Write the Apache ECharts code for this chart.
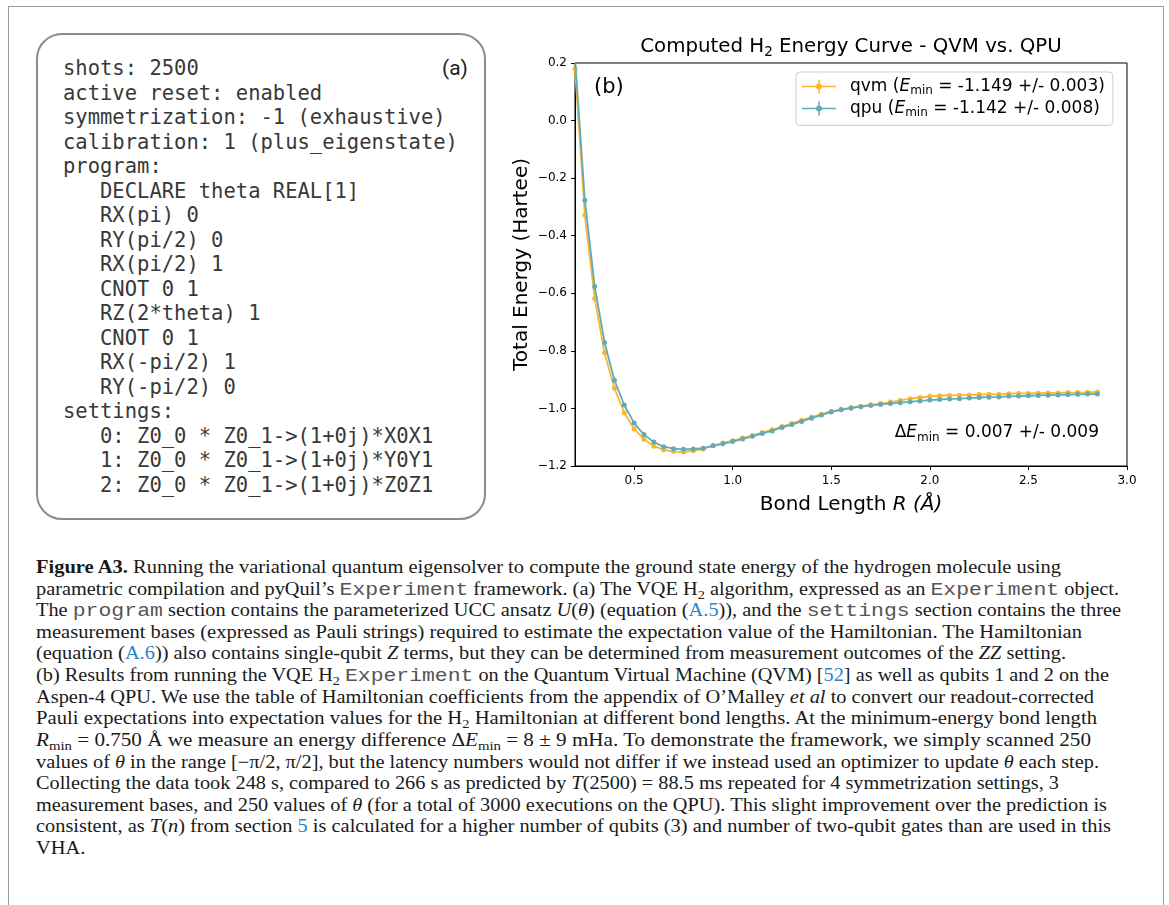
<!DOCTYPE html>
<html><head><meta charset="utf-8">
<script src="https://cdn.jsdelivr.net/npm/echarts@6/dist/echarts.min.js"></script>
<style>
html,body{margin:0;padding:0;background:#fff;width:1169px;height:905px;overflow:hidden;position:relative}
#frame{position:absolute;left:8px;top:6px;width:1156px;height:1000px;border:1.5px solid #9a9a9a;box-sizing:border-box}
#panel{position:absolute;left:36px;top:33px;width:450px;height:487px;border:2px solid #8c8c8c;border-radius:26px;box-sizing:border-box}
#code{position:absolute;left:63px;top:56px;margin:0;font-family:'DejaVu Sans Mono',monospace;font-size:20.5px;line-height:24.5px;color:#383838;white-space:pre}
#pa{position:absolute;left:442px;top:54px;font-family:Roboto,'DejaVu Sans',sans-serif;font-size:21px;line-height:28px;color:#222}
#chart{position:absolute;left:0;top:0;width:1169px;height:905px}
#cap{position:absolute;left:36px;top:556px;font-family:'Liberation Serif',serif;font-size:18px;color:#1a1a1a}
.ln{position:absolute;left:0;white-space:nowrap;height:22px;line-height:22px}
.ln span.w{display:inline-block;transform-origin:0 50%}
code{font-family:'Liberation Mono',monospace;font-size:19px;color:#555}
sub{font-size:0.7em;vertical-align:-0.3em;line-height:0}
a{color:#2b86c5;text-decoration:none}
</style></head>
<body>
<div id="frame"></div>
<div id="panel"></div>
<pre id="code"></pre>
<div id="pa">(a)</div>
<div id="cap">
<div class="ln"><span class="w"><b>Figure A3.</b> Running the variational quantum eigensolver to compute the ground state energy of the hydrogen molecule using</span></div>
<div class="ln"><span class="w">parametric compilation and pyQuil’s <code>Experiment</code> framework. (a) The VQE H<sub>2</sub> algorithm, expressed as an <code>Experiment</code> object.</span></div>
<div class="ln"><span class="w">The <code>program</code> section contains the parameterized UCC ansatz <i>U</i>(<i>θ</i>) (equation (<a>A.5</a>)), and the <code>settings</code> section contains the three</span></div>
<div class="ln"><span class="w">measurement bases (expressed as Pauli strings) required to estimate the expectation value of the Hamiltonian. The Hamiltonian</span></div>
<div class="ln"><span class="w">(equation (<a>A.6</a>)) also contains single-qubit <i>Z</i> terms, but they can be determined from measurement outcomes of the <i>ZZ</i> setting.</span></div>
<div class="ln"><span class="w">(b) Results from running the VQE H<sub>2</sub> <code>Experiment</code> on the Quantum Virtual Machine (QVM) [<a>52</a>] as well as qubits 1 and 2 on the</span></div>
<div class="ln"><span class="w">Aspen-4 QPU. We use the table of Hamiltonian coefficients from the appendix of O’Malley <i>et al</i> to convert our readout-corrected</span></div>
<div class="ln"><span class="w">Pauli expectations into expectation values for the H<sub>2</sub> Hamiltonian at different bond lengths. At the minimum-energy bond length</span></div>
<div class="ln"><span class="w"><i>R</i><sub>min</sub> = 0.750 Å we measure an energy difference Δ<i>E</i><sub>min</sub> = 8 ± 9 mHa. To demonstrate the framework, we simply scanned 250</span></div>
<div class="ln"><span class="w">values of <i>θ</i> in the range [−π/2, π/2], but the latency numbers would not differ if we instead used an optimizer to update <i>θ</i> each step.</span></div>
<div class="ln"><span class="w">Collecting the data took 248 s, compared to 266 s as predicted by <i>T</i>(2500) = 88.5 ms repeated for 4 symmetrization settings, 3</span></div>
<div class="ln"><span class="w">measurement bases, and 250 values of <i>θ</i> (for a total of 3000 executions on the QPU). This slight improvement over the prediction is</span></div>
<div class="ln"><span class="w">consistent, as <i>T</i>(<i>n</i>) from section <a>5</a> is calculated for a higher number of qubits (3) and number of two-qubit gates than are used in this</span></div>
<div class="ln"><span class="w">VHA.</span></div>
</div>
<div id="chart"></div>
<script>
// ---- data ----
const bondLength = [0.20,0.25,0.30,0.35,0.40,0.45,0.50,0.55,0.60,0.65,0.70,0.75,0.80,0.85,0.90,0.95,1.00,1.05,1.10,1.15,1.20,1.25,1.30,1.35,1.40,1.45,1.50,1.55,1.60,1.65,1.70,1.75,1.80,1.85,1.90,1.95,2.00,2.05,2.10,2.15,2.20,2.25,2.30,2.35,2.40,2.45,2.50,2.55,2.60,2.65,2.70,2.75,2.80,2.85];
const qvmEnergy = [0.18,-0.329,-0.618,-0.807,-0.930,-1.015,-1.071,-1.107,-1.131,-1.144,-1.150,-1.151,-1.147,-1.141,-1.129,-1.120,-1.112,-1.103,-1.094,-1.084,-1.074,-1.063,-1.052,-1.041,-1.030,-1.020,-1.010,-1.003,-0.997,-0.992,-0.987,-0.983,-0.978,-0.972,-0.966,-0.962,-0.958,-0.956,-0.955,-0.954,-0.953,-0.952,-0.951,-0.951,-0.949,-0.948,-0.948,-0.947,-0.946,-0.946,-0.945,-0.945,-0.944,-0.943];
const qpuEnergy = [0.22,-0.277,-0.576,-0.771,-0.902,-0.988,-1.051,-1.091,-1.117,-1.133,-1.140,-1.142,-1.141,-1.138,-1.130,-1.123,-1.115,-1.106,-1.097,-1.087,-1.078,-1.066,-1.056,-1.045,-1.034,-1.023,-1.012,-1.005,-0.999,-0.994,-0.990,-0.986,-0.983,-0.980,-0.977,-0.974,-0.971,-0.969,-0.967,-0.966,-0.964,-0.962,-0.961,-0.960,-0.958,-0.957,-0.956,-0.955,-0.954,-0.953,-0.952,-0.951,-0.950,-0.950];
const xTicks = [0.5,1.0,1.5,2.0,2.5,3.0];
const yTicks = [-1.2,-1.0,-0.8,-0.6,-0.4,-0.2,0.0,0.2];
const seriesNames = ['qvm','qpu'];
const eMinValues = ['-1.149','-1.142'];
const eMinErrors = ['0.003','0.008'];
const deltaEText = ['0.007','0.009'];
const codeLines = [
'shots: 2500','active reset: enabled','symmetrization: -1 (exhaustive)','calibration: 1 (plus_eigenstate)','program:',
'   DECLARE theta REAL[1]','   RX(pi) 0','   RY(pi/2) 0','   RX(pi/2) 1','   CNOT 0 1','   RZ(2*theta) 1','   CNOT 0 1',
'   RX(-pi/2) 1','   RY(-pi/2) 0','settings:','   0: Z0_0 * Z0_1->(1+0j)*X0X1','   1: Z0_0 * Z0_1->(1+0j)*Y0Y1','   2: Z0_0 * Z0_1->(1+0j)*Z0Z1'];

// ---- layout helpers (not data) ----
const capRight = [1061,1119,1121,1082,1066,1109,1094,1097,1091,1099,1059,1107,1111];
document.getElementById('code').textContent = codeLines.join('\n');
const lns = document.querySelectorAll('#cap .ln');
let scs = [];
lns.forEach((ln,i)=>{
  ln.style.top = (i*21.62)+'px';
  const s = ln.firstElementChild;
  const w = s.getBoundingClientRect().width;
  if (i < capRight.length) { const sc=(capRight[i]-36)/w; scs.push(sc); s.style.transform='scaleX('+sc+')'; }
  else { const m = scs.reduce((a,b)=>a+b,0)/scs.length; s.style.transform='scaleX('+m+')'; }
});

const ORANGE = '#fbb62e', TEAL = '#62abb6';
const FF = 'DejaVu Sans';
const chart = echarts.init(document.getElementById('chart'), null, {renderer:'canvas'});
const icon = 'path://M0,6.25H34V7.75H0Z M16.25,0H17.75V14H16.25Z M14,7A3,3 0 1 1 20,7A3,3 0 1 1 14,7Z';
const mk = (vals)=>bondLength.map((x,i)=>[x, vals[i]]);
chart.setOption({
  animation:false,
  title:[
    {text:'{t|Computed H}{s|2}{t| Energy Curve - QVM vs. QPU}', left:851, top:35, textAlign:'center', textVerticalAlign:'top', padding:0,
     textStyle:{fontFamily:FF,fontWeight:'normal',fontSize:19.8,color:'#000',rich:{t:{fontFamily:FF,fontSize:19.8,lineHeight:24,color:'#000',fontWeight:'normal'},s:{fontFamily:FF,fontSize:13.5,lineHeight:13,verticalAlign:'bottom',color:'#000',fontWeight:'normal'}}}},
    {text:'(b)', left:594, top:75, textAlign:'left', textVerticalAlign:'top', padding:0,
     textStyle:{fontFamily:FF,fontWeight:'normal',fontSize:21,lineHeight:26,color:'#000'}},
    {text:'{d|Δ}{i|E}{s|min}{d| = '+deltaEText[0]+' +/- '+deltaEText[1]+'}', left:1099, top:422, textAlign:'right', textVerticalAlign:'top', padding:0,
     textStyle:{fontFamily:FF,fontWeight:'normal',fontSize:17,color:'#000',rich:{d:{fontFamily:FF,fontSize:17,lineHeight:22,color:'#000'},i:{fontFamily:FF,fontSize:17,lineHeight:22,fontStyle:'italic',color:'#000'},s:{fontFamily:FF,fontSize:12,lineHeight:12,verticalAlign:'bottom',color:'#000'}}}}
  ],
  legend:{
    data:seriesNames, orient:'vertical', left:796, top:72, padding:[6,8,7,6], itemGap:3.4, itemWidth:34, itemHeight:14,
    icon:icon, borderColor:'#cfcfcf', borderWidth:1, borderRadius:4, backgroundColor:'#fff',
    formatter:(name)=>{const i=seriesNames.indexOf(name); return '{p|'+name+' (}{i|E}{s|min}{t| = '+eMinValues[i]+' +/- '+eMinErrors[i]+')}';},
    textStyle:{fontFamily:FF,fontSize:17,color:'#000',rich:{
      p:{fontFamily:FF,fontSize:17,lineHeight:20,color:'#000',padding:[0,0,0,9]},
      t:{fontFamily:FF,fontSize:17,lineHeight:20,color:'#000'},
      i:{fontFamily:FF,fontSize:17,lineHeight:20,fontStyle:'italic',color:'#000'},
      s:{fontFamily:FF,fontSize:12,lineHeight:11,verticalAlign:'bottom',color:'#000'}}}
  },
  grid:{left:575,right:42,top:63,bottom:439,show:true,borderColor:'#000',borderWidth:1,backgroundColor:'transparent'},
  xAxis:{type:'value',min:0.2,max:3.0,
    name:'{n|Bond Length }{i|R}{i| (Å)}', nameLocation:'middle', nameGap:27,
    nameTextStyle:{fontFamily:FF,fontSize:20,color:'#000',rich:{n:{fontFamily:FF,fontSize:20,lineHeight:24,color:'#000'},i:{fontFamily:FF,fontSize:20,lineHeight:24,fontStyle:'italic',color:'#000'}}},
    axisLine:{show:true,onZero:false,lineStyle:{color:'#000',width:1}},
    axisTick:{show:true,length:4,lineStyle:{color:'#000'},customValues:xTicks},
    axisLabel:{customValues:xTicks,margin:9,fontFamily:FF,fontSize:12,color:'#000',formatter:(v)=>v.toFixed(1)},
    splitLine:{show:false}},
  yAxis:{type:'value',min:-1.2,max:0.2,
    name:'Total Energy (Hartee)', nameLocation:'middle', nameGap:41, nameRotate:90,
    nameTextStyle:{fontFamily:FF,fontSize:20,lineHeight:24,color:'#000'},
    axisLine:{show:true,onZero:false,lineStyle:{color:'#000',width:1}},
    axisTick:{show:true,length:4,lineStyle:{color:'#000'},customValues:yTicks},
    axisLabel:{customValues:yTicks,margin:8,fontFamily:FF,fontSize:12,color:'#000',formatter:(v)=>v.toFixed(1).replace('-','\u2212')},
    splitLine:{show:false}},
  series:[
    {name:seriesNames[0],type:'line',data:mk(qvmEnergy),symbol:'circle',symbolSize:5,showSymbol:true,clip:true,z:2,
     lineStyle:{color:ORANGE,width:1.8},itemStyle:{color:ORANGE},emphasis:{disabled:true}},
    {name:seriesNames[1],type:'line',data:mk(qpuEnergy),symbol:'circle',symbolSize:5,showSymbol:true,clip:true,z:3,
     lineStyle:{color:TEAL,width:1.8},itemStyle:{color:TEAL},emphasis:{disabled:true}}
  ]
});
</script>
</body></html>
